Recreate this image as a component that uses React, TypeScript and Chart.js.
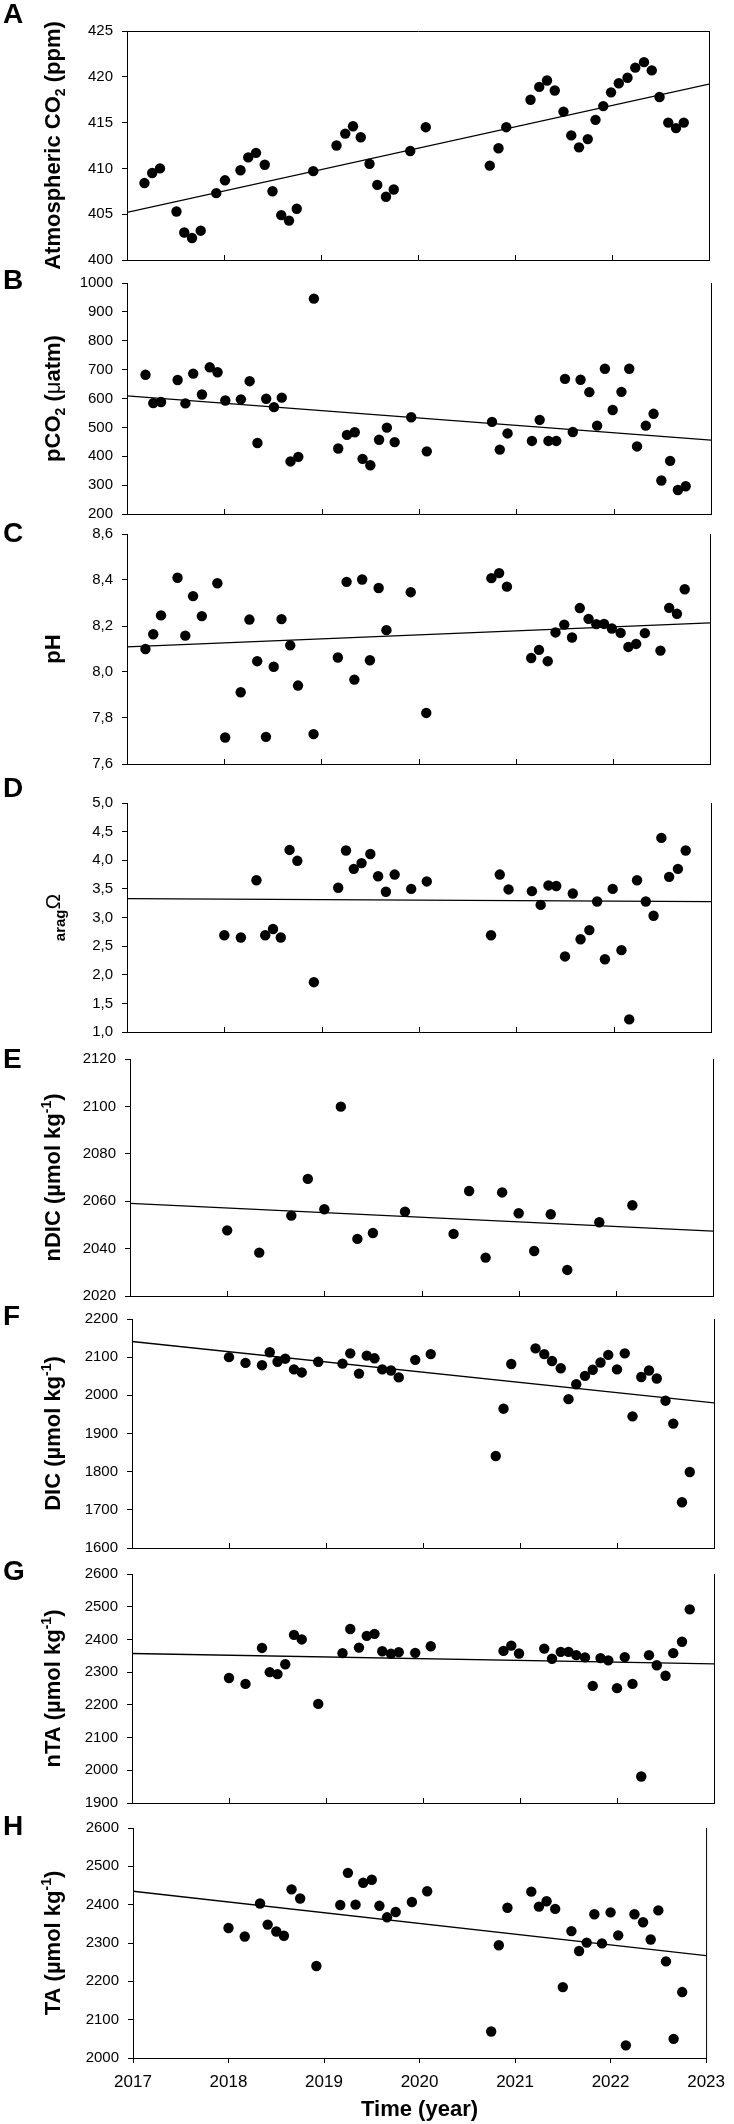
import { useEffect, useRef } from 'react';
import { Chart, registerables } from 'chart.js';
Chart.register(...registerables);

const FONT = "'Liberation Sans', Arial, sans-serif";
Chart.defaults.font.family = FONT;
Chart.defaults.color = '#000';

// x axis
const yearTicks = [2017, 2018, 2019, 2020, 2021, 2022, 2023];
const trendYears = [2017, 2023];

// A - atmospheric CO2 (ppm)
const co2Time = [2017.18, 2017.26, 2017.34, 2017.51, 2017.59, 2017.67, 2017.76, 2017.92, 2018.01, 2018.17, 2018.25, 2018.33, 2018.42, 2018.50, 2018.59, 2018.67, 2018.75, 2018.92, 2019.16, 2019.25, 2019.33, 2019.41, 2019.50, 2019.58, 2019.67, 2019.75, 2019.92, 2020.08, 2020.74, 2020.83, 2020.91, 2021.16, 2021.25, 2021.33, 2021.41, 2021.50, 2021.58, 2021.66, 2021.75, 2021.83, 2021.91, 2021.99, 2022.07, 2022.16, 2022.24, 2022.33, 2022.41, 2022.49, 2022.58, 2022.66, 2022.74];
const co2Ppm = [408.4, 409.5, 410.0, 405.3, 403.0, 402.4, 403.2, 407.3, 408.7, 409.8, 411.2, 411.7, 410.4, 407.5, 404.9, 404.3, 405.6, 409.7, 412.5, 413.8, 414.6, 413.4, 410.5, 408.2, 406.9, 407.7, 411.9, 414.5, 410.3, 412.2, 414.5, 417.5, 418.9, 419.6, 418.5, 416.2, 413.6, 412.3, 413.2, 415.3, 416.8, 418.3, 419.3, 419.9, 421.0, 421.6, 420.7, 417.8, 415.0, 414.4, 415.0];
const co2Trend = [405.2, 419.2];

// B - pCO2 (uatm)
const pco2Time = [2017.19, 2017.27, 2017.35, 2017.52, 2017.60, 2017.68, 2017.77, 2017.85, 2017.93, 2018.01, 2018.17, 2018.26, 2018.34, 2018.43, 2018.51, 2018.59, 2018.68, 2018.76, 2018.92, 2019.17, 2019.26, 2019.34, 2019.42, 2019.50, 2019.59, 2019.67, 2019.75, 2019.92, 2020.08, 2020.75, 2020.83, 2020.91, 2021.16, 2021.24, 2021.33, 2021.41, 2021.50, 2021.58, 2021.66, 2021.75, 2021.83, 2021.91, 2021.99, 2022.08, 2022.16, 2022.24, 2022.33, 2022.41, 2022.49, 2022.58, 2022.66, 2022.74];
const pco2 = [682, 584, 588, 664, 583, 686, 614, 708, 691, 593, 597, 660, 446, 599, 570, 603, 382, 398, 946, 427, 474, 483, 391, 369, 457, 499, 449, 535, 417, 519, 423, 479, 453, 526, 453, 453, 668, 484, 665, 622, 506, 703, 560, 623, 703, 434, 506, 547, 316, 384, 283, 296];
const pco2Trend = [609, 456];

// C - pH
const phTime = [2017.19, 2017.27, 2017.35, 2017.52, 2017.60, 2017.68, 2017.77, 2017.93, 2018.01, 2018.17, 2018.26, 2018.34, 2018.43, 2018.51, 2018.59, 2018.68, 2018.76, 2018.92, 2019.17, 2019.26, 2019.34, 2019.42, 2019.50, 2019.59, 2019.67, 2019.92, 2020.08, 2020.75, 2020.83, 2020.91, 2021.16, 2021.24, 2021.33, 2021.41, 2021.50, 2021.58, 2021.66, 2021.75, 2021.83, 2021.91, 2021.99, 2022.08, 2022.16, 2022.24, 2022.33, 2022.49, 2022.58, 2022.66, 2022.74];
const ph = [8.10, 8.164, 8.246, 8.410, 8.158, 8.330, 8.243, 8.386, 7.715, 7.912, 8.228, 8.047, 7.718, 8.023, 8.230, 8.116, 7.941, 7.730, 8.063, 8.392, 7.967, 8.402, 8.051, 8.365, 8.182, 8.347, 7.822, 8.408, 8.430, 8.371, 8.061, 8.096, 8.047, 8.172, 8.206, 8.150, 8.278, 8.231, 8.208, 8.209, 8.189, 8.170, 8.109, 8.122, 8.169, 8.093, 8.279, 8.253, 8.360];
const phTrend = [8.109, 8.214];

// D - aragonite saturation
const aragTime = [2018.00, 2018.17, 2018.33, 2018.42, 2018.50, 2018.58, 2018.67, 2018.75, 2018.92, 2019.17, 2019.25, 2019.33, 2019.41, 2019.50, 2019.58, 2019.66, 2019.75, 2019.92, 2020.08, 2020.74, 2020.83, 2020.92, 2021.16, 2021.25, 2021.33, 2021.41, 2021.50, 2021.58, 2021.66, 2021.75, 2021.83, 2021.91, 2021.99, 2022.08, 2022.16, 2022.24, 2022.33, 2022.41, 2022.49, 2022.57, 2022.66, 2022.74];
const arag = [2.69, 2.65, 3.65, 2.69, 2.80, 2.65, 4.18, 3.99, 1.87, 3.52, 4.17, 3.85, 3.95, 4.11, 3.72, 3.45, 3.75, 3.50, 3.63, 2.69, 3.75, 3.49, 3.46, 3.22, 3.56, 3.55, 2.32, 3.42, 2.62, 2.78, 3.28, 2.27, 3.50, 2.43, 1.22, 3.65, 3.28, 3.03, 4.39, 3.71, 3.85, 4.17];
const aragTrend = [3.33, 3.277];

// E - nDIC
const ndicTime = [2018.00, 2018.33, 2018.66, 2018.83, 2019.00, 2019.17, 2019.34, 2019.50, 2019.83, 2020.33, 2020.49, 2020.66, 2020.83, 2021.00, 2021.16, 2021.33, 2021.50, 2021.83, 2022.17];
const ndic = [2047.7, 2038.3, 2053.9, 2069.4, 2056.6, 2099.9, 2044.1, 2046.6, 2055.6, 2046.2, 2064.3, 2036.2, 2063.7, 2054.9, 2039.0, 2054.5, 2031.0, 2051.1, 2058.3];
const ndicTrend = [2059.1, 2047.4];

// F - DIC
const dicTime = [2018.00, 2018.17, 2018.34, 2018.42, 2018.50, 2018.58, 2018.67, 2018.75, 2018.92, 2019.17, 2019.25, 2019.34, 2019.42, 2019.50, 2019.58, 2019.67, 2019.75, 2019.92, 2020.08, 2020.75, 2020.83, 2020.91, 2021.16, 2021.25, 2021.33, 2021.42, 2021.50, 2021.58, 2021.67, 2021.75, 2021.83, 2021.91, 2022.00, 2022.08, 2022.16, 2022.25, 2022.33, 2022.41, 2022.50, 2022.58, 2022.67, 2022.75];
const dic = [2100, 2085, 2079, 2113, 2088, 2096, 2068, 2060, 2088, 2083, 2110, 2057, 2104, 2097, 2068, 2065, 2047, 2093, 2108, 1841, 1965, 2082, 2123, 2108, 2090, 2071, 1990, 2029, 2051, 2067, 2086, 2106, 2068, 2110, 1945, 2048, 2065, 2044, 1986, 1926, 1720, 1799];
const dicTrend = [2141, 1980];

// G - nTA
const ntaTime = [2018.00, 2018.17, 2018.34, 2018.42, 2018.50, 2018.58, 2018.67, 2018.75, 2018.92, 2019.17, 2019.25, 2019.34, 2019.42, 2019.50, 2019.58, 2019.67, 2019.75, 2019.92, 2020.08, 2020.83, 2020.91, 2020.99, 2021.25, 2021.33, 2021.42, 2021.50, 2021.58, 2021.67, 2021.75, 2021.83, 2021.91, 2022.00, 2022.08, 2022.16, 2022.25, 2022.33, 2022.41, 2022.50, 2022.58, 2022.67, 2022.75];
const nta = [2282, 2264, 2374, 2300, 2294, 2324, 2414, 2400, 2203, 2358, 2432, 2375, 2411, 2417, 2364, 2356, 2361, 2359, 2379, 2365, 2381, 2357, 2372, 2341, 2362, 2362, 2352, 2345, 2258, 2343, 2336, 2251, 2346, 2264, 1981, 2352, 2321, 2289, 2358, 2393, 2492];
const ntaTrend = [2357, 2325];

// H - TA
const taTime = [2018.00, 2018.17, 2018.33, 2018.41, 2018.50, 2018.58, 2018.66, 2018.75, 2018.92, 2019.17, 2019.25, 2019.33, 2019.41, 2019.50, 2019.58, 2019.66, 2019.75, 2019.92, 2020.08, 2020.75, 2020.83, 2020.92, 2021.17, 2021.25, 2021.33, 2021.42, 2021.50, 2021.59, 2021.67, 2021.75, 2021.83, 2021.91, 2022.00, 2022.08, 2022.16, 2022.25, 2022.34, 2022.42, 2022.50, 2022.58, 2022.66, 2022.75];
const ta = [2339, 2317, 2403, 2348, 2330, 2319, 2440, 2416, 2240, 2399, 2483, 2400, 2457, 2465, 2397, 2367, 2381, 2407, 2435, 2069, 2294, 2392, 2434, 2395, 2409, 2389, 2185, 2331, 2279, 2301, 2375, 2299, 2380, 2320, 2033, 2375, 2354, 2309, 2385, 2252, 2050, 2172];
const taTrend = [2435, 2267];

type Seg = { t: string; sub?: boolean; sup?: boolean; font?: string };

const B22 = `bold 22px ${FONT}`;
const SMALL = `bold 14px ${FONT}`;
const umolTitle = (name: string): Seg[] => [{ t: name + ' (µmol kg' }, { t: '-1', sup: true }, { t: ')' }];

type PanelCfg = {
  letter: string; letterDy: number; top: number; bottom: number; left: number; right: number;
  min: number; max: number; step: number; comma?: boolean; boxed?: boolean; last?: boolean;
  title: Seg[]; xs: number[]; ys: number[]; trend: number[];
};

const panels: PanelCfg[] = [
  { letter: 'A', letterDy: -16, top: 31, bottom: 260, left: 127, right: 709, min: 400, max: 425, step: 5, boxed: true,
    title: [{ t: 'Atmospheric CO' }, { t: '2', sub: true }, { t: ' (ppm)' }], xs: co2Time, ys: co2Ppm, trend: co2Trend },
  { letter: 'B', letterDy: -2, top: 283, bottom: 514, left: 127, right: 711, min: 200, max: 1000, step: 100,
    title: [{ t: 'pCO' }, { t: '2', sub: true }, { t: ' (' }, { t: 'μ', font: `22px ${FONT}` }, { t: 'atm)' }], xs: pco2Time, ys: pco2, trend: pco2Trend },
  { letter: 'C', letterDy: 0, top: 534, bottom: 764, left: 127, right: 710, min: 7.6, max: 8.6, step: 0.2, comma: true,
    title: [{ t: 'pH' }], xs: phTime, ys: ph, trend: phTrend },
  { letter: 'D', letterDy: -14, top: 803, bottom: 1032, left: 127, right: 711, min: 1, max: 5, step: 0.5, comma: true,
    title: [{ t: 'arag', sub: true, font: `bold 15px ${FONT}` }, { t: 'Ω', font: `21px ${FONT}` }], xs: aragTime, ys: arag, trend: aragTrend },
  { letter: 'E', letterDy: 1, top: 1059, bottom: 1296, left: 130, right: 713, min: 2020, max: 2120, step: 20,
    title: umolTitle('nDIC'), xs: ndicTime, ys: ndic, trend: ndicTrend },
  { letter: 'F', letterDy: -2, top: 1319, bottom: 1548, left: 132, right: 714, min: 1600, max: 2200, step: 100,
    title: umolTitle('DIC'), xs: dicTime, ys: dic, trend: dicTrend },
  { letter: 'G', letterDy: -2, top: 1574, bottom: 1803, left: 132, right: 714, min: 1900, max: 2600, step: 100,
    title: umolTitle('nTA'), xs: ntaTime, ys: nta, trend: ntaTrend },
  { letter: 'H', letterDy: -1, top: 1828, bottom: 2058, left: 133, right: 715, min: 2000, max: 2600, step: 100, last: true,
    title: umolTitle('TA'), xs: taTime, ys: ta, trend: taTrend },
];

const PAD_TOP = 32;

function Panel({ p }: { p: PanelCfg }) {
  const ref = useRef<HTMLCanvasElement | null>(null);
  const padBottom = p.last ? 2124 - p.bottom : 26;
  const height = PAD_TOP + (p.bottom - p.top) + padBottom;

  useEffect(() => {
    if (!ref.current) return;
    const ctx = ref.current.getContext('2d');
    if (!ctx) return;

    const frame = {
      id: 'frame',
      afterDraw(chart: any) {
        const c = chart.ctx;
        const a = chart.chartArea;
        c.save();
        c.strokeStyle = '#000';
        c.lineWidth = 1;
        c.beginPath();
        c.moveTo(a.right + 0.5, a.top);
        c.lineTo(a.right + 0.5, a.bottom);
        if (p.boxed) {
          c.moveTo(a.left, a.top + 0.5);
          c.lineTo(a.right + 1, a.top + 0.5);
        }
        if (!p.last) {
          // inward ticks on the time axis
          yearTicks.slice(1, -1).forEach((yr) => {
            const x = Math.round(chart.scales.x.getPixelForValue(yr)) + 0.5;
            c.moveTo(x, a.bottom);
            c.lineTo(x, a.bottom - 5);
          });
        }
        c.stroke();

        c.fillStyle = '#000';
        c.textAlign = 'left';
        c.textBaseline = 'middle';
        c.font = `bold 28px ${FONT}`;
        c.fillText(p.letter, 3, a.top + p.letterDy);

        // rotated y title with sub/superscripts
        const fontOf = (s: Seg) => s.font || (s.sub || s.sup ? SMALL : B22);
        let total = 0;
        p.title.forEach((s) => { c.font = fontOf(s); total += c.measureText(s.t).width; });
        c.translate(53, (a.top + a.bottom) / 2);
        c.rotate(-Math.PI / 2);
        c.textBaseline = 'alphabetic';
        let x = -total / 2;
        const base = 7;
        p.title.forEach((s) => {
          c.font = fontOf(s);
          const dy = s.sub ? 5 : s.sup ? -9 : 0;
          c.fillText(s.t, x, base + dy);
          x += c.measureText(s.t).width;
        });
        c.restore();
      },
    };

    const chart = new Chart(ctx, {
      type: 'scatter',
      data: {
        datasets: [
          {
            data: p.xs.map((x, i) => ({ x, y: p.ys[i] })),
            backgroundColor: '#000',
            borderWidth: 0,
            pointRadius: 5.2,
            pointHoverRadius: 5.2,
          },
          {
            data: trendYears.map((x, i) => ({ x, y: p.trend[i] })),
            showLine: true,
            borderColor: '#000',
            borderWidth: 1.3,
            pointRadius: 0,
          },
        ],
      },
      options: {
        animation: false,
        responsive: false,
        events: [],
        layout: { padding: { left: 0, right: 734 - p.right, top: PAD_TOP, bottom: 0 } },
        plugins: { legend: { display: false }, tooltip: { enabled: false } },
        scales: {
          x: {
            type: 'linear',
            min: 2017,
            max: 2023,
            afterFit: (s: any) => { s.height = padBottom; },
            ticks: {
              display: !!p.last, stepSize: 1, padding: 9, maxRotation: 0, autoSkip: false,
              font: { size: 17 }, color: '#000', callback: (v: any) => String(v),
            },
            grid: { display: !!p.last, drawOnChartArea: false, tickLength: 5, color: '#000' },
            border: { display: true, color: '#000', width: 1 },
            title: {
              display: !!p.last, text: 'Time (year)', color: '#000',
              font: { size: 22, weight: 'bold' }, padding: { top: 0, bottom: 1 },
            },
          },
          y: {
            min: p.min,
            max: p.max,
            afterFit: (s: any) => { s.width = p.left; },
            ticks: {
              stepSize: p.step, padding: 9, font: { size: 15 }, color: '#000',
              callback: (v: any) => (p.comma ? Number(v).toFixed(1).replace('.', ',') : String(Math.round(Number(v)))),
            },
            grid: { drawOnChartArea: false, tickLength: 5, color: '#000' },
            border: { display: true, color: '#000', width: 1 },
          },
        },
      },
      plugins: [frame],
    });
    return () => chart.destroy();
  }, []);

  return (
    <canvas
      ref={ref}
      width={734}
      height={height}
      style={{ position: 'absolute', left: 0, top: p.top - PAD_TOP, width: 734, height }}
    />
  );
}

export default function App() {
  return (
    <div style={{ position: 'absolute', left: 0, top: 0, width: 734, height: 2124, background: '#fff' }}>
      {panels.map((p) => <Panel key={p.letter} p={p} />)}
    </div>
  );
}
